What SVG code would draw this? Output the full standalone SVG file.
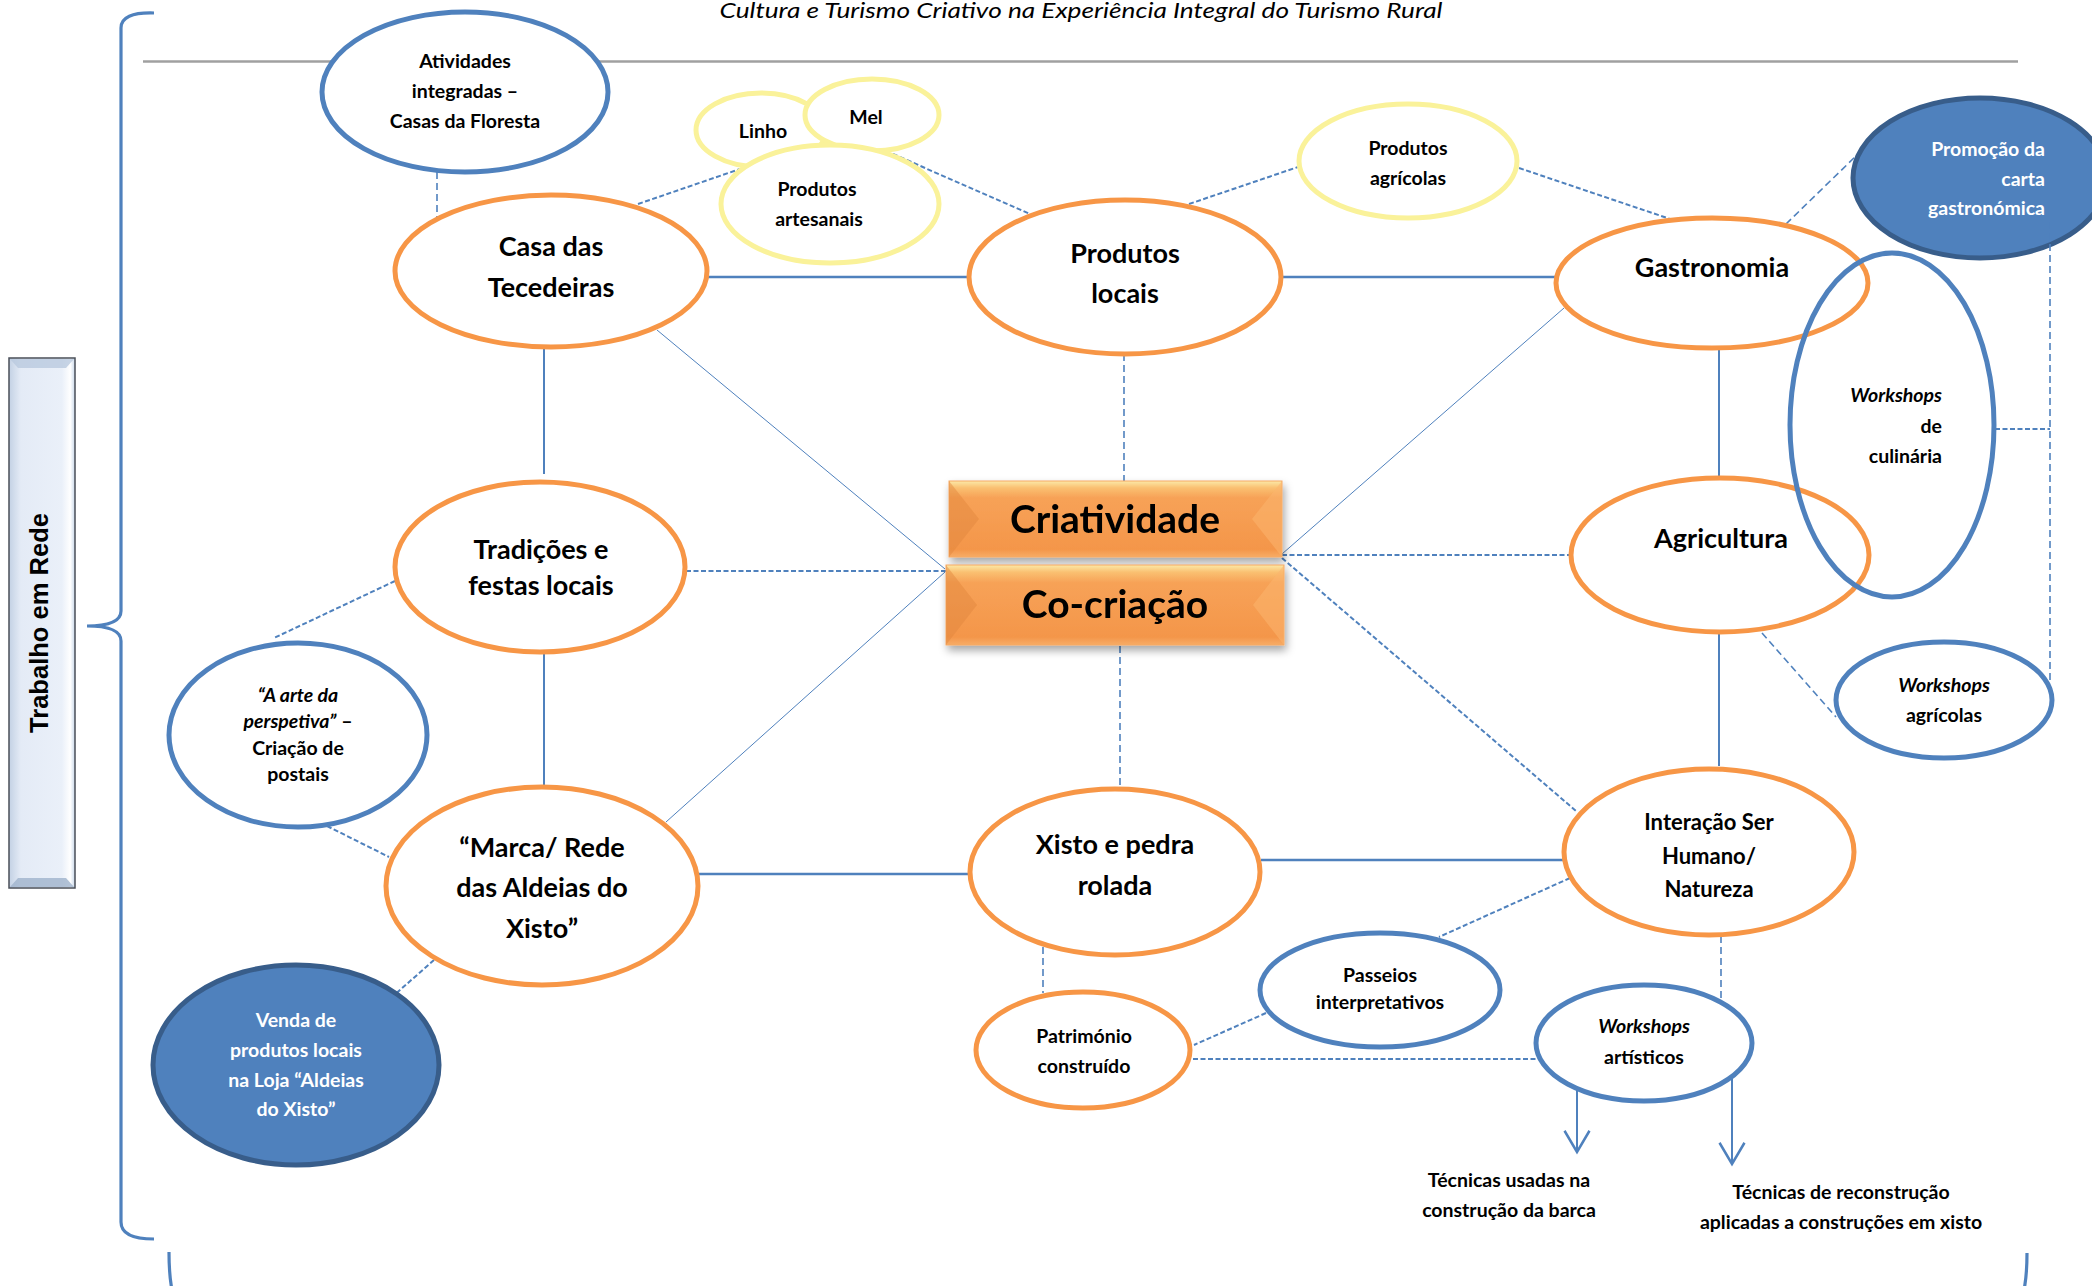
<svg xmlns="http://www.w3.org/2000/svg" width="2092" height="1286" viewBox="0 0 2092 1286">
  <defs>
    <style>
      .ob { fill: #fff; stroke: #F79646; stroke-width: 5; }
      .bb { fill: #fff; stroke: #4F81BD; stroke-width: 5; }
      .bo { fill: none; stroke: #4F81BD; stroke-width: 5; }
      .bf { fill: #4F81BD; stroke: #385D8A; stroke-width: 5; }
      .yb { fill: #fff; stroke: #FAF29A; stroke-width: 5; }
      .solid { stroke: #4F81BD; stroke-width: 2.5; fill: none; }
      .thin { stroke: #4F81BD; stroke-width: 1; fill: none; }
      .dash { stroke: #4F81BD; stroke-width: 2; stroke-dasharray: 5 2.5; fill: none; }
      .dashl { stroke: #4F81BD; stroke-width: 1.6; stroke-dasharray: 7 4; fill: none; }
      .arrow { stroke: #4F81BD; stroke-width: 2; fill: none; marker-end: url(#vhead); }
      text { font-family: Lato, "Open Sans", "Liberation Sans", sans-serif; font-weight: bold; fill: #000; text-anchor: middle; }
      .big { font-size: 27px; }
      .mid { font-size: 22px; }
      .sm { font-size: 19.5px; }
      .wt { fill: #fff; }
      .it { font-style: italic; }
      .rt { text-anchor: end; }
      .box { font-size: 39px; }
    </style>
    <marker id="vhead" markerUnits="userSpaceOnUse" markerWidth="30" markerHeight="30" refX="0" refY="0" viewBox="-20 -12 22 24" orient="auto">
      <path d="M-17,-10 L0,0 L-17,10" fill="none" stroke="#4F81BD" stroke-width="2"/>
    </marker>
    <linearGradient id="orangeFill" x1="0" y1="0" x2="0" y2="1">
      <stop offset="0" stop-color="#FCE9A8"/>
      <stop offset="0.09" stop-color="#FAC071"/>
      <stop offset="0.22" stop-color="#F7A257"/>
      <stop offset="0.9" stop-color="#F4964A"/>
      <stop offset="1" stop-color="#F7AC66"/>
    </linearGradient>
    <linearGradient id="sideFill" x1="0" y1="0" x2="1" y2="0">
      <stop offset="0" stop-color="#C3D1E4"/>
      <stop offset="0.18" stop-color="#E4EBF6"/>
      <stop offset="0.8" stop-color="#EAF0F9"/>
      <stop offset="0.93" stop-color="#FFFFFF"/>
      <stop offset="1" stop-color="#C9D8EA"/>
    </linearGradient>
    <filter id="boxShadow" x="-10%" y="-20%" width="125%" height="150%">
      <feDropShadow dx="2" dy="5" stdDeviation="4" flood-color="#000" flood-opacity="0.35"/>
    </filter>
  </defs>

  <rect width="2092" height="1286" fill="#fff"/>

  <!-- heading and rule -->
  <text x="1081" y="18" font-size="21" font-style="italic" textLength="723" lengthAdjust="spacingAndGlyphs" style="font-weight:normal" fill="#111">Cultura e Turismo Criativo na Experiência Integral do Turismo Rural</text>
  <line x1="143" y1="61.5" x2="2018" y2="61.5" stroke="#A0A0A0" stroke-width="2.5"/>

  <!-- side label -->
  <g id="trabalho-em-rede">
    <rect x="9" y="358" width="66" height="530" fill="url(#sideFill)" stroke="#4A4F58" stroke-width="1.5"/>
    <polygon points="10,359 74,359 66,368 18,368" fill="#B9C9DE" opacity="0.8"/>
    <polygon points="10,887 74,887 66,878 18,878" fill="#9FB3CC" opacity="0.8"/>
    <text x="48" y="623" transform="rotate(-90 48 623)" style="font-family:'Liberation Sans', Arial, sans-serif" font-size="25.5" textLength="220" lengthAdjust="spacingAndGlyphs">Trabalho em Rede</text>
  </g>

  <!-- braces -->
  <g id="braces" fill="none" stroke="#4F81BD" stroke-width="3.2">
    <path d="M154,13 Q121,12 121,28 L121,611 Q121,626 87,626 Q121,626 121,641 L121,1222 Q121,1239 154,1239"/>
    <path d="M169,1252 C169,1268 170,1280 172,1290"/>
    <path d="M2027,1253 C2027,1268 2026,1280 2024,1290"/>
  </g>

  <!-- connectors -->
  <g id="connectors">
    <line class="solid" x1="708" y1="277" x2="969" y2="277"/>
    <line class="solid" x1="1282" y1="277" x2="1556" y2="277"/>
    <line class="solid" x1="544" y1="348" x2="544" y2="474" style="stroke-width:2"/>
    <line class="solid" x1="544" y1="653" x2="544" y2="787" style="stroke-width:2"/>
    <line class="solid" x1="1719" y1="348" x2="1719" y2="476" style="stroke-width:2"/>
    <line class="solid" x1="1719" y1="632" x2="1719" y2="766" style="stroke-width:2"/>
    <line class="solid" x1="698" y1="874" x2="970" y2="874"/>
    <line class="solid" x1="1261" y1="860" x2="1564" y2="860"/>

    <line class="thin" x1="657" y1="330" x2="945" y2="569"/>
    <line class="thin" x1="945" y1="572" x2="666" y2="822"/>
    <line class="thin" x1="1564" y1="308" x2="1282" y2="554"/>

    <line class="dash" x1="686" y1="571" x2="946" y2="571"/>
    <line class="dash" x1="1282" y1="555" x2="1571" y2="555"/>
    <line class="dash" x1="1282" y1="558" x2="1576" y2="811"/>
    <line class="dashl" x1="1124" y1="354" x2="1124" y2="481"/>
    <line class="dashl" x1="1120" y1="646" x2="1120" y2="789"/>
    <line class="dashl" x1="437" y1="172" x2="437" y2="218"/>
    <line class="dash" x1="638" y1="204" x2="740" y2="169"/>
    <line class="dash" x1="893" y1="154" x2="1030" y2="214"/>
    <line class="dash" x1="1189" y1="204" x2="1298" y2="167"/>
    <line class="dash" x1="1519" y1="168" x2="1679" y2="222"/>
    <line class="dashl" x1="1786" y1="224" x2="1857" y2="155"/>
    <line class="dash" x1="1995" y1="429" x2="2050" y2="429"/>
    <line class="dashl" x1="1762" y1="633" x2="1836" y2="717"/>
    <line class="dash" x1="395" y1="581" x2="274" y2="638"/>
    <line class="dash" x1="327" y1="826" x2="389" y2="857"/>
    <line class="dash" x1="434" y1="960" x2="383" y2="1005"/>
    <line class="dashl" x1="1043" y1="947" x2="1043" y2="993"/>
    <line class="dash" x1="1570" y1="878" x2="1439" y2="937"/>
    <line class="dash" x1="1266" y1="1013" x2="1194" y2="1045"/>
    <line class="dash" x1="1193" y1="1059" x2="1536" y2="1059"/>
    <line class="dashl" x1="1721" y1="936" x2="1721" y2="1000"/>

    <line class="arrow" x1="1577" y1="1088" x2="1577" y2="1152"/>
    <line class="arrow" x1="1732" y1="1078" x2="1732" y2="1164"/>
  </g>

  <!-- central boxes -->
  <g id="criatividade" filter="url(#boxShadow)">
    <rect x="949" y="481" width="333" height="76" fill="url(#orangeFill)" stroke="#F5A862" stroke-width="1"/>
    <polygon points="949,481 979,519 949,557" fill="#E0853C" opacity="0.45"/>
    <polygon points="1282,481 1252,519 1282,557" fill="#FBB46E" opacity="0.55"/>
    <text class="box" x="1115" y="533">Criatividade</text>
  </g>
  <g id="co-criacao" filter="url(#boxShadow)">
    <rect x="946" y="565" width="338" height="80" fill="url(#orangeFill)" stroke="#F5A862" stroke-width="1"/>
    <polygon points="946,565 977,605 946,645" fill="#E0853C" opacity="0.45"/>
    <polygon points="1284,565 1253,605 1284,645" fill="#FBB46E" opacity="0.55"/>
    <text class="box" x="1115" y="618">Co-criação</text>
  </g>

  <!-- main themes -->
  <g id="casa-tecedeiras">
    <ellipse class="ob" cx="551" cy="271" rx="156" ry="76"/>
    <text class="big" x="551" y="256">Casa das</text>
    <text class="big" x="551" y="297">Tecedeiras</text>
  </g>
  <g id="produtos-locais">
    <ellipse class="ob" cx="1125" cy="277" rx="156" ry="77"/>
    <text class="big" x="1125" y="263">Produtos</text>
    <text class="big" x="1125" y="303">locais</text>
  </g>
  <g id="gastronomia">
    <ellipse class="ob" cx="1712" cy="283" rx="156" ry="65"/>
    <text class="big" x="1712" y="277">Gastronomia</text>
  </g>
  <g id="tradicoes">
    <ellipse class="ob" cx="540" cy="567" rx="145" ry="85"/>
    <text class="big" x="541" y="559">Tradições e</text>
    <text class="big" x="541" y="595">festas locais</text>
  </g>
  <g id="agricultura">
    <ellipse class="ob" cx="1720" cy="555" rx="149" ry="77"/>
    <text class="big" x="1721" y="548">Agricultura</text>
  </g>
  <g id="marca-rede">
    <ellipse class="ob" cx="542" cy="886" rx="156" ry="99"/>
    <text class="big" x="542" y="857">“Marca/ Rede</text>
    <text class="big" x="542" y="897">das Aldeias do</text>
    <text class="big" x="542" y="938">Xisto”</text>
  </g>
  <g id="xisto-pedra">
    <ellipse class="ob" cx="1115" cy="872" rx="145" ry="83"/>
    <text class="big" x="1115" y="854">Xisto e pedra</text>
    <text class="big" x="1115" y="895">rolada</text>
  </g>
  <g id="interacao">
    <ellipse class="ob" cx="1709" cy="852" rx="145" ry="83"/>
    <text class="mid" x="1709" y="830">Interação Ser</text>
    <text class="mid" x="1709" y="864">Humano/</text>
    <text class="mid" x="1709" y="897">Natureza</text>
  </g>
  <g id="patrimonio">
    <ellipse class="ob" cx="1083" cy="1050" rx="107" ry="58"/>
    <text class="sm" x="1084" y="1043">Património</text>
    <text class="sm" x="1084" y="1073">construído</text>
  </g>

  <!-- activities -->
  <g id="atividades-integradas">
    <ellipse class="bb" cx="465" cy="92" rx="143" ry="80"/>
    <text class="sm" x="465" y="68">Atividades</text>
    <text class="sm" x="465" y="98">integradas –</text>
    <text class="sm" x="465" y="128">Casas da Floresta</text>
  </g>
  <g id="linho">
    <ellipse class="yb" cx="761" cy="130" rx="65" ry="37"/>
    <text class="sm" x="763" y="138">Linho</text>
  </g>
  <g id="mel">
    <ellipse class="yb" cx="872" cy="115" rx="67" ry="36"/>
    <text class="sm" x="866" y="124">Mel</text>
  </g>
  <g id="produtos-artesanais">
    <ellipse class="yb" cx="830" cy="204" rx="109" ry="59"/>
    <text class="sm" x="817" y="196">Produtos</text>
    <text class="sm" x="819" y="226">artesanais</text>
  </g>
  <g id="produtos-agricolas">
    <ellipse class="yb" cx="1408" cy="161" rx="109" ry="57"/>
    <text class="sm" x="1408" y="155">Produtos</text>
    <text class="sm" x="1408" y="185">agrícolas</text>
  </g>
  <g id="promocao-carta">
    <ellipse class="bf" cx="1980" cy="178" rx="127" ry="80"/>
    <text class="sm wt rt" x="2045" y="156">Promoção da</text>
    <text class="sm wt rt" x="2045" y="186">carta</text>
    <text class="sm wt rt" x="2045" y="215">gastronómica</text>
  </g>
  <line class="dashl" x1="2050" y1="222" x2="2050" y2="683"/>
  <g id="workshops-culinaria">
    <ellipse class="bo" cx="1892" cy="425" rx="102" ry="172"/>
    <text class="sm rt" x="1942" y="402"><tspan class="it">Workshops</tspan></text>
    <text class="sm rt" x="1942" y="433">de</text>
    <text class="sm rt" x="1942" y="463">culinária</text>
  </g>
  <g id="workshops-agricolas">
    <ellipse class="bb" cx="1944" cy="700" rx="108" ry="58"/>
    <text class="sm it" x="1944" y="692">Workshops</text>
    <text class="sm" x="1944" y="722">agrícolas</text>
  </g>
  <g id="arte-perspetiva">
    <ellipse class="bb" cx="298" cy="735" rx="129" ry="92"/>
    <text class="sm it" x="298" y="702">“A arte da</text>
    <text class="sm" x="298" y="728"><tspan class="it">perspetiva”</tspan> –</text>
    <text class="sm" x="298" y="755">Criação de</text>
    <text class="sm" x="298" y="781">postais</text>
  </g>
  <g id="venda-produtos">
    <ellipse class="bf" cx="296" cy="1065" rx="143" ry="100"/>
    <text class="sm wt" x="296" y="1027">Venda de</text>
    <text class="sm wt" x="296" y="1057">produtos locais</text>
    <text class="sm wt" x="296" y="1087">na Loja “Aldeias</text>
    <text class="sm wt" x="296" y="1116">do Xisto”</text>
  </g>
  <g id="passeios">
    <ellipse class="bb" cx="1380" cy="990" rx="120" ry="57"/>
    <text class="sm" x="1380" y="982">Passeios</text>
    <text class="sm" x="1380" y="1009">interpretativos</text>
  </g>
  <g id="workshops-artisticos">
    <ellipse class="bb" cx="1644" cy="1043" rx="108" ry="58"/>
    <text class="sm it" x="1644" y="1033">Workshops</text>
    <text class="sm" x="1644" y="1064">artísticos</text>
  </g>

  <!-- outcome labels -->
  <g id="tecnicas-barca">
    <text class="sm" x="1509" y="1187">Técnicas usadas na</text>
    <text class="sm" x="1509" y="1217">construção da barca</text>
  </g>
  <g id="tecnicas-reconstrucao">
    <text class="sm" x="1841" y="1199">Técnicas de reconstrução</text>
    <text class="sm" x="1841" y="1229">aplicadas a construções em xisto</text>
  </g>
</svg>
